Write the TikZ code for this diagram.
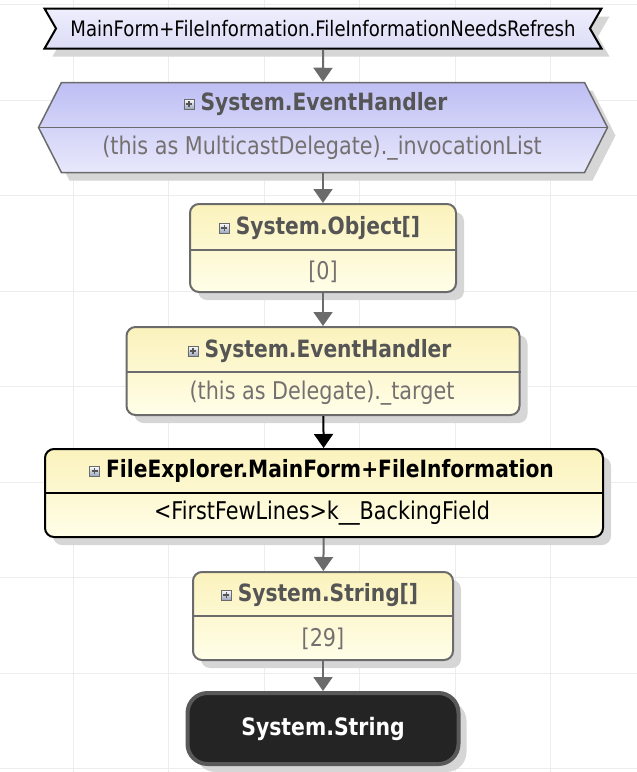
\documentclass[tikz,border=0pt]{standalone}
\usepackage{fontspec}
\setmainfont{DejaVu Sans}[FakeStretch=0.85]
\usetikzlibrary{positioning,shapes.symbols,shadows,arrows.meta}
\definecolor{gridgray}{HTML}{EDEDED}
\definecolor{shadowgray}{HTML}{D6D6D6}
\definecolor{edgegray}{HTML}{6B6B6B}
\definecolor{headgray}{HTML}{555555}
\definecolor{bodygray}{HTML}{747070}
\definecolor{lavtop}{HTML}{EEEEFD}
\definecolor{lavbot}{HTML}{DCDCF6}
\definecolor{hextop}{HTML}{BEBEF4}
\definecolor{hexbot}{HTML}{E8E8FC}
\definecolor{yeltop}{HTML}{FBF2BC}
\definecolor{yelbot}{HTML}{FFFEE8}
\definecolor{iconblue}{HTML}{9AA6BC}

\begin{document}
\begin{tikzpicture}[x=1pt, y=-1pt,
    gridline/.style={gridgray, line width=1pt},
    shadowed/.style={drop shadow={shadow xshift=8pt, shadow yshift=-8pt,
        fill=shadowgray, opacity=1}},
    topsig/.style={signal, signal from=west and east, signal to=nowhere,
        signal pointer angle=120, draw=black, line width=2pt,
        minimum width=557pt, minimum height=40pt, inner sep=0pt,
        top color=lavtop, bottom color=lavbot, shadowed,
        font=\fontsize{21.3}{25}\selectfont},
    hexsig/.style={signal, signal to=west and east, signal pointer angle=126,
        draw=edgegray, line width=1.5pt, minimum width=569pt,
        minimum height=90pt, inner sep=0pt,
        top color=hextop, bottom color=hexbot, shadowed},
    box/.style={draw=edgegray, line width=2pt, rounded corners=9pt,
        minimum height=88pt, top color=yeltop, bottom color=yelbot, shadowed},
    endbox/.style={draw=black!65, line width=4pt, rounded corners=20pt,
        fill=black!86, minimum width=271pt, minimum height=71pt, shadowed,
        text=white, font=\fontsize{24}{28}\selectfont\bfseries},
    divline/.style={draw=edgegray, line width=2pt},
    headtext/.style={text=headgray, inner sep=0pt,
        font=\fontsize{23.8}{28}\selectfont\bfseries},
    bodytext/.style={text=bodygray, inner sep=0pt,
        font=\fontsize{24.4}{28}\selectfont},
    plusicon/.style={draw=edgegray, line width=0.8pt, minimum size=10pt,
        inner sep=0pt, top color=white, bottom color=iconblue,
        path picture={\draw[headgray, line width=1.2pt]
            (path picture bounding box.center) ++(-3pt,0) -- ++(6pt,0)
            (path picture bounding box.center) ++(0,-3pt) -- ++(0,6pt);}},
    link/.style={draw=edgegray, line width=2pt,
        -{Triangle[width=19pt,length=14pt]}},
    linkdark/.style={link, draw=black, fill=black}]
  \useasboundingbox (0,0) rectangle (637,772);
  % background grid
  \foreach \gx in {0,...,5}
    \draw[gridline] ({73+95.5*\gx},0) -- ({73+95.5*\gx},772);
  \foreach \gy in {0,...,8}
    \draw[gridline] (0,{4.5+95.5*\gy}) -- (637,{4.5+95.5*\gy});

  % event source
  \node[topsig] (refresh) at (323,28.5)
    {MainForm+FileInformation.FileInformationNeedsRefresh};

  % multicast delegate
  \node[hexsig] (multicast) at (323,127.5) {};
  \draw[divline, line width=1.5pt] (multicast.west) -- (multicast.east);
  \node[headtext] (multicasthead) at (324,104) {System.EventHandler};
  \node[plusicon, left=6pt of multicasthead] (multicasticon) {};
  \node[bodytext] (multicastbody) at (322,148)
    {(this as MulticastDelegate).\_invocationList};

  % invocation list
  \node[box, minimum width=266pt] (objarr) at (323,248) {};
  \draw[divline] ([yshift=-47pt]objarr.north west)
    -- ([yshift=-47pt]objarr.north east);
  \node[headtext] (objarrhead) at (328,228) {System.Object[]};
  \node[plusicon, left=6pt of objarrhead] (objarricon) {};
  \node[bodytext] (objarrbody) at (323,272) {[0]};

  % delegate target
  \node[box, minimum width=393pt] (handler) at (323,371) {};
  \draw[divline] ([yshift=-46pt]handler.north west)
    -- ([yshift=-46pt]handler.north east);
  \node[headtext] (handlerhead) at (328,351) {System.EventHandler};
  \node[plusicon, left=6pt of handlerhead] (handlericon) {};
  \node[bodytext] (handlerbody) at (322,393) {(this as Delegate).\_target};

  % file information
  \node[box, draw=black, minimum width=558pt] (fileinfo) at (324,493) {};
  \draw[divline, draw=black] ([yshift=-45pt]fileinfo.north west)
    -- ([yshift=-45pt]fileinfo.north east);
  \node[headtext, text=black] (fileinfohead) at (330,471)
    {FileExplorer.MainForm+FileInformation};
  \node[plusicon, left=6pt of fileinfohead] (fileinfoicon) {};
  \node[bodytext, text=black] (fileinfobody) at (322,513)
    {<FirstFewLines>k\_\_BackingField};

  % string array
  \node[box, minimum width=260pt] (strarr) at (323,616) {};
  \draw[divline] ([yshift=-45pt]strarr.north west)
    -- ([yshift=-45pt]strarr.north east);
  \node[headtext] (strarrhead) at (328,595) {System.String[]};
  \node[plusicon, left=6pt of strarrhead] (strarricon) {};
  \node[bodytext] (strarrbody) at (323,639) {[29]};

  % root
  \node[endbox] (strend) at (323,728.5) {System.String};

  % references
  \draw[link] (refresh) -- (multicast);
  \draw[link] (multicast) -- (objarr);
  \draw[link] (objarr) -- (handler);
  \draw[linkdark] (handler) -- (fileinfo);
  \draw[link] (fileinfo) -- (strarr);
  \draw[link] (strarr) -- (strend);
\end{tikzpicture}
\end{document}
